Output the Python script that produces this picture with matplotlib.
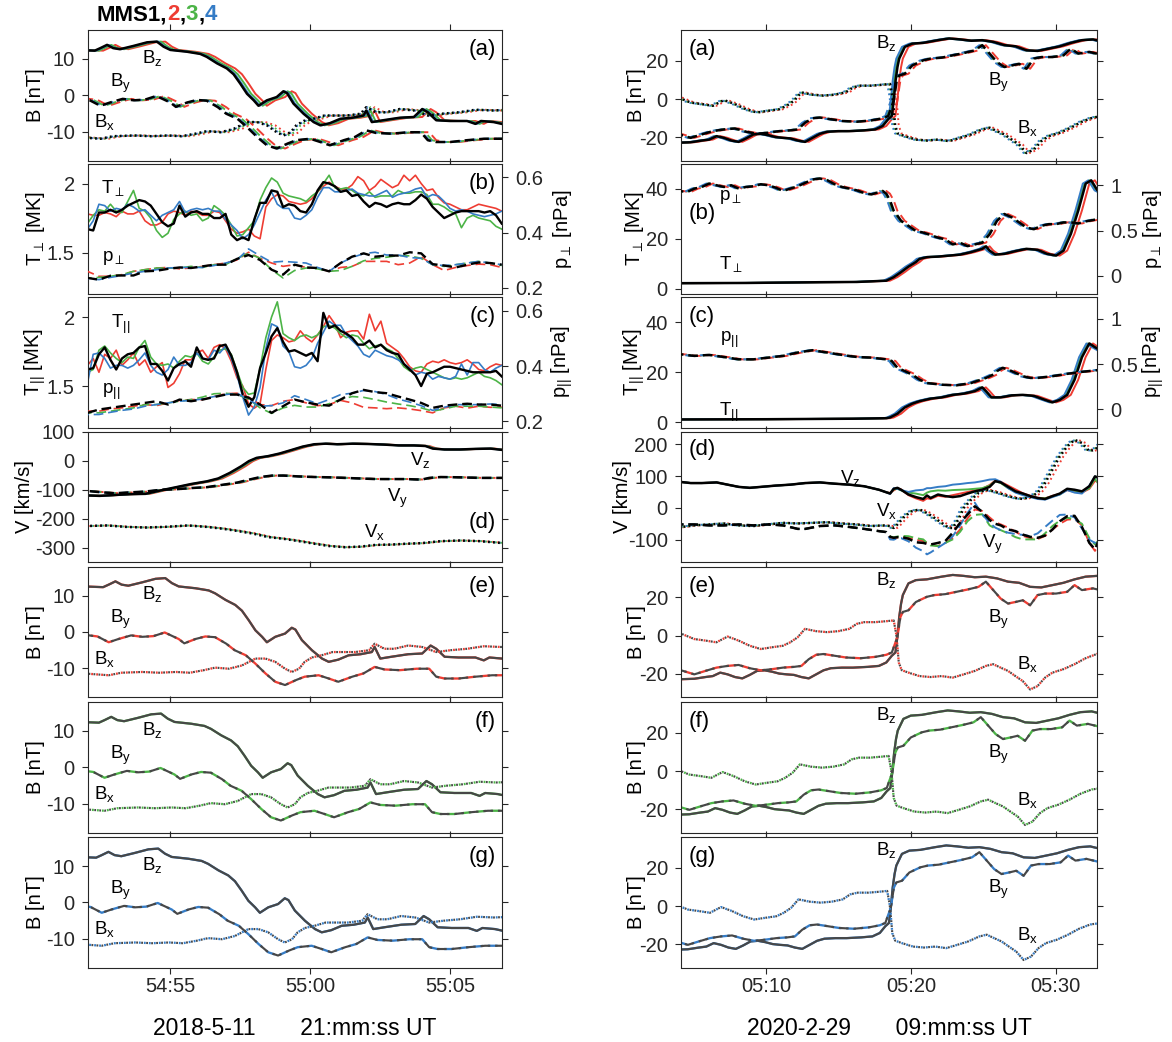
import numpy as np
import matplotlib
matplotlib.use('Agg')
import matplotlib.pyplot as plt

plt.rcParams['font.family'] = ['Liberation Sans', 'DejaVu Sans']
plt.rcParams['mathtext.fontset'] = 'custom'
plt.rcParams['mathtext.rm'] = 'Liberation Sans'
plt.rcParams['mathtext.it'] = 'Liberation Sans'
plt.rcParams['mathtext.default'] = 'regular'
plt.rcParams['lines.scale_dashes'] = False

RED = '#ee3d33'
GREEN = '#4cb447'
BLUE = '#357cc6'
GRAY = '#474747'
TICK_COLOR = '#262626'
SC_COLORS = ['k', RED, GREEN, BLUE]

# ---------------- 2018-05-11 event (seconds after 21:54:00) ----------------
# time lag of MMS1..4 relative to MMS1
lag_left = [0.0, 0.3, 0.15, 0.05]

l_bz_t = [51.6, 52.3, 52.5, 52.74, 52.96, 53.2, 53.68, 54.17, 54.52, 54.76, 55.0, 55.6, 56.07, 56.3,
          56.67, 57.02, 57.26, 57.5, 57.74, 57.98, 58.15, 58.45, 58.8, 59.04, 59.17, 59.4, 59.76, 60.12,
          60.36, 60.7, 61.07, 61.5, 61.9, 62.0, 62.2, 62.6, 63.2, 63.7, 64.0, 64.2, 64.5, 65.0, 65.6,
          65.9, 66.1, 66.55, 66.9]
l_bz = [12.5, 12.3, 13.0, 13.9, 13.0, 12.7, 13.6, 14.6, 14.8, 13.4, 12.5, 12.0, 11.4, 10.6, 8.8, 7.4,
        5.8, 3.2, 0.4, -1.4, -2.9, -1.4, -0.5, 1.1, 0.6, -2.3, -5.1, -7.4, -8.3, -7.7, -6.5, -6.2, -5.6,
        -4.2, -7.4, -6.9, -6.2, -6.0, -3.8, -4.7, -6.9, -7.1, -7.1, -7.9, -7.1, -7.4, -8.0]
l_by_t = [51.6, 52.1, 52.5, 52.85, 53.3, 53.7, 54.1, 54.5, 55.0, 55.2, 55.6, 55.95, 56.3, 56.7, 57.0,
          57.4, 57.74, 58.1, 58.45, 58.8, 59.2, 59.5, 60.0, 60.36, 60.7, 61.2, 61.6, 62.0, 62.35, 62.9,
          63.5, 63.95, 64.2, 64.5, 65.0, 65.6, 66.2, 66.9]
l_by = [-0.8, -1.3, -2.9, -2.0, -1.0, -1.4, -1.2, -0.2, -2.0, -3.2, -2.0, -1.3, -1.5, -3.3, -5.1, -6.5,
        -8.8, -11.5, -13.8, -14.7, -13.3, -12.4, -12.0, -12.9, -13.8, -12.4, -11.5, -9.7, -10.4, -10.6,
        -10.2, -10.2, -12.4, -12.9, -12.9, -12.4, -12.0, -12.0]
l_bx_t = [51.6, 52.5, 52.96, 53.7, 54.3, 54.9, 55.4, 55.9, 56.3, 56.8, 57.26, 57.74, 58.1, 58.45, 58.8,
          59.04, 59.3, 59.5, 59.76, 60.1, 60.5, 60.8, 61.3, 61.8, 62.0, 62.35, 62.7, 63.2, 63.7, 64.2,
          64.7, 65.3, 65.9, 66.5, 67.2]
l_bx = [-11.5, -12.0, -11.3, -11.1, -11.3, -11.1, -11.3, -10.6, -9.9, -10.2, -9.3, -7.4, -7.4, -8.3,
        -10.2, -11.1, -10.2, -8.3, -7.1, -6.5, -5.6, -5.6, -5.6, -5.1, -3.3, -4.7, -4.7, -3.8, -4.2,
        -5.6, -5.1, -4.7, -4.0, -4.2, -4.0]

# plasma moments: temperatures every ~0.2 s, pressures every ~0.4 s
l_t_fine = np.linspace(52.04, 66.84, 73)
l_t_coarse = np.linspace(52.04, 66.84, 37)

l_tperp_mms1 = [1.67, 1.66, 1.79, 1.79, 1.81, 1.79, 1.81, 1.84, 1.86, 1.88,
                1.87, 1.84, 1.78, 1.72, 1.69, 1.71, 1.84, 1.76, 1.79, 1.80,
                1.78, 1.78, 1.75, 1.75, 1.78, 1.63, 1.59, 1.61, 1.59, 1.74,
                1.86, 1.86, 1.95, 1.94, 1.83, 1.85, 1.84, 1.80, 1.79, 1.85,
                1.95, 2.01, 2.00, 1.98, 1.94, 1.95, 1.91, 1.92, 1.87, 1.83,
                1.86, 1.85, 1.83, 1.85, 1.86, 1.85, 1.85, 1.88, 1.92, 1.89,
                1.83, 1.79, 1.75, 1.77, 1.79, 1.80, 1.80, 1.80, 1.80, 1.79,
                1.80, 1.77, 1.71]
l_tperp_mms2 = [1.78, 1.77, 1.77, 1.79, 1.78, 1.76, 1.80, 1.78, 1.78, 1.80,
                1.73, 1.70, 1.70, 1.72, 1.78, 1.80, 1.79, 1.77, 1.80, 1.79,
                1.77, 1.77, 1.80, 1.79, 1.73, 1.67, 1.64, 1.65, 1.67, 1.62,
                1.60, 1.83, 1.89, 1.92, 1.91, 1.87, 1.86, 1.85, 1.86, 1.89,
                1.94, 1.98, 2.01, 1.98, 1.96, 1.96, 1.99, 2.05, 2.02, 1.95,
                1.98, 2.03, 2.00, 1.97, 1.99, 2.06, 2.02, 2.06, 2.00, 1.95,
                1.96, 1.90, 1.86, 1.85, 1.83, 1.81, 1.81, 1.83, 1.85, 1.84,
                1.83, 1.82, 1.80]
l_tperp_mms3 = [1.71, 1.77, 1.81, 1.80, 1.85, 1.80, 1.79, 1.87, 1.95, 1.82,
                1.80, 1.75, 1.66, 1.61, 1.64, 1.74, 1.78, 1.80, 1.77, 1.78,
                1.73, 1.75, 1.84, 1.81, 1.77, 1.70, 1.62, 1.63, 1.68, 1.73,
                1.88, 1.97, 2.04, 2.01, 1.93, 1.91, 1.90, 1.89, 1.87, 1.91,
                1.94, 2.00, 2.06, 1.97, 1.96, 1.97, 1.95, 1.92, 1.91, 1.94,
                1.90, 1.91, 1.91, 1.91, 1.95, 1.93, 1.93, 1.94, 1.94, 1.92,
                1.85, 1.85, 1.83, 1.80, 1.78, 1.68, 1.75, 1.77, 1.75, 1.74,
                1.73, 1.69, 1.67]
l_tperp_mms4 = [1.67, 1.73, 1.85, 1.84, 1.80, 1.82, 1.81, 1.85, 1.83, 1.80,
                1.81, 1.77, 1.73, 1.77, 1.79, 1.81, 1.87, 1.79, 1.81, 1.82,
                1.81, 1.82, 1.80, 1.80, 1.74, 1.70, 1.66, 1.60, 1.63, 1.70,
                1.79, 1.88, 1.94, 1.85, 1.82, 1.82, 1.75, 1.74, 1.77, 1.81,
                1.90, 1.97, 1.97, 1.94, 1.94, 1.95, 1.96, 1.93, 1.92, 1.91,
                1.91, 1.93, 1.95, 1.90, 1.92, 1.93, 1.94, 1.96, 1.97, 1.90,
                1.92, 1.91, 1.87, 1.82, 1.80, 1.81, 1.80, 1.78, 1.77, 1.76,
                1.77, 1.78, 1.80]

l_tpar_mms1 = [1.62, 1.63, 1.73, 1.78, 1.69, 1.62, 1.70, 1.73, 1.74, 1.78,
               1.79, 1.66, 1.66, 1.61, 1.54, 1.63, 1.66, 1.68, 1.64, 1.78,
               1.70, 1.69, 1.70, 1.79, 1.80, 1.72, 1.60, 1.44, 1.35, 1.42,
               1.63, 1.74, 1.86, 1.92, 1.82, 1.75, 1.76, 1.74, 1.72, 1.74,
               1.68, 2.03, 1.92, 1.94, 1.90, 1.88, 1.85, 1.80, 1.80, 1.83,
               1.78, 1.80, 1.76, 1.74, 1.73, 1.66, 1.62, 1.58, 1.50, 1.59,
               1.60, 1.62, 1.64, 1.64, 1.63, 1.62, 1.61, 1.60, 1.60, 1.60,
               1.60, 1.61, 1.57]
l_tpar_mms2 = [1.65, 1.70, 1.60, 1.73, 1.70, 1.76, 1.65, 1.69, 1.74, 1.65,
               1.69, 1.60, 1.64, 1.67, 1.49, 1.52, 1.59, 1.69, 1.69, 1.74,
               1.76, 1.70, 1.78, 1.80, 1.77, 1.68, 1.56, 1.50, 1.37, 1.34,
               1.37, 1.62, 1.83, 1.87, 1.85, 1.82, 1.83, 1.90, 1.85, 1.82,
               1.87, 1.93, 2.01, 1.95, 1.85, 1.89, 1.90, 1.90, 1.84, 2.02,
               1.90, 1.97, 1.81, 1.78, 1.75, 1.70, 1.64, 1.61, 1.60, 1.66,
               1.68, 1.67, 1.69, 1.67, 1.66, 1.67, 1.69, 1.66, 1.62, 1.61,
               1.64, 1.66, 1.65]
l_tpar_mms3 = [1.60, 1.62, 1.76, 1.79, 1.74, 1.70, 1.67, 1.71, 1.70, 1.78,
               1.83, 1.71, 1.66, 1.65, 1.66, 1.63, 1.68, 1.72, 1.71, 1.74,
               1.68, 1.66, 1.71, 1.76, 1.77, 1.73, 1.61, 1.49, 1.44, 1.45,
               1.63, 1.85, 2.00, 2.11, 1.88, 1.85, 1.83, 1.86, 1.87, 1.85,
               1.87, 1.93, 1.94, 1.92, 1.88, 1.85, 1.87, 1.86, 1.81, 1.77,
               1.79, 1.80, 1.77, 1.75, 1.70, 1.64, 1.61, 1.63, 1.64, 1.62,
               1.60, 1.58, 1.56, 1.55, 1.56, 1.55, 1.56, 1.58, 1.60, 1.57,
               1.56, 1.54, 1.51]
l_tpar_mms4 = [1.52, 1.73, 1.74, 1.70, 1.63, 1.65, 1.65, 1.63, 1.65, 1.69,
               1.74, 1.65, 1.60, 1.58, 1.62, 1.71, 1.65, 1.65, 1.67, 1.74,
               1.70, 1.69, 1.76, 1.74, 1.79, 1.70, 1.58, 1.42, 1.29, 1.35,
               1.49, 1.77, 1.95, 1.93, 1.79, 1.75, 1.64, 1.63, 1.65, 1.70,
               1.81, 1.89, 1.97, 1.94, 1.94, 1.87, 1.83, 1.79, 1.73, 1.71,
               1.76, 1.74, 1.72, 1.71, 1.69, 1.66, 1.63, 1.58, 1.60, 1.59,
               1.55, 1.57, 1.56, 1.55, 1.57, 1.66, 1.58, 1.67, 1.67, 1.62,
               1.60, 1.63, 1.65]

l_pperp_mms1 = [0.236, 0.230, 0.244, 0.245, 0.245, 0.260, 0.262, 0.269, 0.274, 0.272,
                0.278, 0.284, 0.284, 0.305, 0.319, 0.301, 0.266, 0.248, 0.284, 0.274,
                0.272, 0.260, 0.290, 0.313, 0.325, 0.313, 0.317, 0.317, 0.329, 0.325,
                0.286, 0.281, 0.274, 0.284, 0.292, 0.290, 0.284]
l_pperp_mms2 = [0.260, 0.242, 0.242, 0.248, 0.260, 0.266, 0.272, 0.274, 0.269, 0.272,
                0.278, 0.284, 0.290, 0.301, 0.329, 0.307, 0.290, 0.278, 0.284, 0.274,
                0.272, 0.260, 0.274, 0.278, 0.296, 0.296, 0.296, 0.284, 0.290, 0.313,
                0.284, 0.263, 0.274, 0.281, 0.286, 0.284, 0.274]
l_pperp_mms3 = [0.236, 0.238, 0.242, 0.248, 0.260, 0.266, 0.272, 0.272, 0.272, 0.278,
                0.274, 0.284, 0.284, 0.307, 0.325, 0.307, 0.266, 0.236, 0.263, 0.272,
                0.269, 0.260, 0.263, 0.278, 0.298, 0.307, 0.311, 0.317, 0.316, 0.307,
                0.284, 0.278, 0.284, 0.290, 0.296, 0.290, 0.281]
l_pperp_mms4 = [0.233, 0.230, 0.238, 0.245, 0.254, 0.260, 0.266, 0.272, 0.274, 0.274,
                0.274, 0.281, 0.290, 0.301, 0.341, 0.316, 0.293, 0.296, 0.293, 0.290,
                0.274, 0.260, 0.290, 0.310, 0.324, 0.329, 0.319, 0.319, 0.310, 0.307,
                0.284, 0.281, 0.284, 0.290, 0.296, 0.290, 0.284]

l_ppar_mms1 = [0.231, 0.243, 0.249, 0.255, 0.261, 0.267, 0.273, 0.261, 0.279, 0.273,
               0.279, 0.288, 0.297, 0.297, 0.286, 0.261, 0.231, 0.255, 0.279, 0.269,
               0.261, 0.257, 0.279, 0.302, 0.314, 0.306, 0.302, 0.290, 0.279, 0.267,
               0.249, 0.257, 0.261, 0.264, 0.261, 0.261, 0.257]
l_ppar_mms2 = [0.237, 0.237, 0.245, 0.249, 0.255, 0.261, 0.257, 0.267, 0.276, 0.279,
               0.279, 0.290, 0.300, 0.302, 0.288, 0.261, 0.257, 0.273, 0.279, 0.267,
               0.257, 0.261, 0.276, 0.267, 0.251, 0.249, 0.246, 0.249, 0.245, 0.239,
               0.231, 0.249, 0.255, 0.248, 0.255, 0.251, 0.252]
l_ppar_mms3 = [0.231, 0.231, 0.237, 0.243, 0.249, 0.261, 0.261, 0.267, 0.273, 0.279,
               0.288, 0.300, 0.302, 0.297, 0.281, 0.249, 0.229, 0.249, 0.258, 0.252,
               0.252, 0.264, 0.279, 0.290, 0.287, 0.279, 0.270, 0.263, 0.257, 0.249,
               0.237, 0.245, 0.255, 0.255, 0.255, 0.252, 0.249]
l_ppar_mms4 = [0.225, 0.225, 0.233, 0.240, 0.245, 0.255, 0.261, 0.267, 0.273, 0.276,
               0.281, 0.290, 0.297, 0.302, 0.279, 0.255, 0.257, 0.267, 0.293, 0.279,
               0.264, 0.279, 0.297, 0.302, 0.312, 0.308, 0.297, 0.281, 0.270, 0.257,
               0.240, 0.251, 0.261, 0.260, 0.261, 0.263, 0.261]

l_vz_t = [51.6, 52.47, 53.01, 53.56, 54.11, 54.66, 55.21, 55.75, 56.30, 56.71, 57.12, 57.53, 57.81,
          58.08, 58.49, 58.90, 59.32, 59.73, 60.14, 60.55, 60.96, 61.51, 62.05, 62.60, 63.15, 63.70,
          64.11, 64.38, 64.79, 65.34, 65.89, 66.44, 66.9]
l_vz = [-119, -122, -119, -116, -115, -103, -92, -81, -72, -62, -43, -20, -2, 9, 15, 24, 36, 48, 56,
        58, 56, 58, 57, 55, 52, 52, 50, 41, 38, 38, 40, 41, 36]
l_vy_t = [51.6, 52.47, 53.01, 53.56, 54.11, 54.66, 55.21, 55.75, 56.30, 56.85, 57.40, 57.81, 58.22,
          58.63, 59.04, 59.59, 60.14, 60.68, 61.23, 61.78, 62.33, 62.88, 63.42, 63.97, 64.25, 64.66,
          65.34, 66.03, 66.9]
l_vy = [-101, -109, -113, -110, -107, -101, -99, -95, -92, -84, -76, -66, -57, -52, -52, -55, -57,
        -58, -60, -62, -64, -64, -64, -66, -60, -57, -58, -60, -60]
l_vx_t = [51.6, 52.74, 53.42, 54.11, 54.79, 55.62, 56.30, 56.85, 57.40, 57.95, 58.49, 59.04, 59.59,
          60.14, 60.68, 61.23, 61.78, 62.33, 62.88, 63.42, 63.97, 64.66, 65.34, 66.03, 66.9]
l_vx = [-227, -224, -229, -231, -229, -224, -229, -235, -243, -252, -264, -270, -278, -287, -295,
        -299, -297, -291, -290, -287, -285, -278, -276, -278, -285]

# ---------------- 2020-02-29 event (seconds after 09:00:00) ----------------
lag_right = [0.0, 0.25, -0.1, -0.2]

r_bz_t = [303.6, 304.77, 305.54, 306.05, 306.56, 307.07, 307.58, 308.09, 308.60, 309.11, 309.62,
          310.13, 310.64, 311.15, 311.66, 312.17, 312.68, 313.19, 313.70, 314.21, 314.97, 315.74,
          316.76, 317.53, 318.04, 318.42, 318.67, 318.80, 318.93, 319.06, 319.18, 319.57, 320.08,
          320.84, 321.86, 322.63, 323.39, 324.16, 324.92, 325.69, 326.45, 327.22, 327.98, 328.75,
          329.52, 330.28, 331.05, 331.81, 332.58, 333.3]
r_bz = [-22.8, -22.5, -21.6, -21.1, -19.3, -20.2, -21.6, -22.3, -20.5, -18.4, -18.1, -18.8, -19.8,
        -20.2, -20.5, -21.6, -22.3, -20.2, -18.1, -17.0, -16.7, -16.7, -16.3, -15.8, -14.0, -10.5,
        -8.8, -0.9, 9.6, 16.7, 21.1, 27.2, 28.9, 29.3, 30.7, 31.6, 31.1, 30.4, 30.7, 29.8, 28.1,
        27.5, 25.4, 25.1, 26.3, 27.5, 29.3, 30.7, 31.1, 29.8]
r_by_t = [303.6, 304.77, 305.54, 306.30, 307.07, 307.83, 308.60, 309.36, 310.13, 310.89, 311.66,
          312.17, 312.68, 313.19, 313.70, 314.46, 315.23, 316.25, 317.27, 318.04, 318.42, 318.80,
          319.01, 319.18, 319.57, 320.08, 320.84, 321.35, 322.12, 322.88, 323.65, 324.41, 324.92,
          325.43, 325.94, 326.45, 326.96, 327.47, 327.98, 328.49, 329.01, 329.77, 330.54, 331.05,
          331.56, 332.32, 333.3]
r_by = [-17.5, -20.2, -18.4, -16.7, -15.8, -15.3, -17.0, -18.1, -17.5, -16.7, -16.3, -15.8, -12.3,
        -10.0, -9.6, -10.5, -11.4, -11.8, -11.1, -10.0, -8.8, -0.9, 9.6, 12.3, 13.2, 17.5, 20.2,
        21.1, 21.6, 22.8, 24.0, 25.4, 28.1, 23.7, 19.3, 16.7, 17.5, 18.4, 15.8, 21.1, 21.9, 21.9,
        22.8, 26.3, 23.7, 24.6, 22.8]
r_bx_t = [303.6, 304.77, 305.54, 306.30, 307.07, 307.83, 308.60, 309.36, 310.13, 310.89, 311.40,
          311.91, 312.42, 313.19, 313.95, 314.72, 315.48, 315.99, 316.51, 317.27, 318.04, 318.55,
          318.72, 318.80, 318.90, 319.10, 319.57, 320.33, 321.10, 321.86, 322.63, 323.39, 324.16,
          324.92, 325.43, 325.94, 326.45, 326.96, 327.47, 327.98, 328.49, 329.01, 329.52, 330.28,
          331.05, 331.81, 332.58, 333.3]
r_bx = [1.8, -1.8, -2.6, -3.5, -0.5, -2.6, -5.3, -7.0, -6.1, -5.3, -3.5, -0.9, 3.5, 2.3, 1.8, 2.3,
        3.5, 6.1, 7.0, 7.0, 7.5, 7.9, 0.9, -5.0, -14.0, -18.0, -19.3, -21.1, -21.6, -21.1, -21.9,
        -20.2, -18.4, -15.8, -14.9, -16.7, -18.4, -21.1, -23.7, -28.1, -26.3, -21.9, -19.3, -17.5,
        -14.9, -11.8, -9.6, -8.8]

r_tperp_t = [303.6, 308.60, 313.70, 316.25, 318.29, 318.80, 319.31, 319.82, 320.33, 320.59, 321.10,
             321.86, 322.63, 323.39, 324.16, 324.92, 325.18, 325.43, 325.82, 326.45, 327.22, 327.98,
             328.75, 329.39, 330.03, 330.54, 331.05, 331.56, 332.07, 332.45, 332.88, 333.3]
r_tperp = [2.3, 2.4, 2.7, 2.8, 3.3, 4.7, 6.7, 8.9, 10.7, 12.0, 12.7, 12.9, 13.3, 13.7, 14.7, 16.0,
           17.0, 15.3, 13.7, 14.0, 15.1, 16.0, 15.6, 14.0, 13.3, 15.3, 22.0, 31.3, 42.0, 43.3, 39.3,
           38.0]
r_pperp_t = [303.6, 304.52, 305.03, 305.54, 306.05, 306.56, 307.07, 307.58, 308.09, 308.60, 309.11,
             309.62, 310.13, 310.64, 311.15, 311.66, 312.17, 312.68, 313.19, 313.70, 314.21, 314.72,
             315.23, 315.74, 316.25, 316.76, 317.27, 317.78, 318.04, 318.29, 318.55, 318.80, 319.06,
             319.31, 319.82, 320.33, 320.84, 321.35, 321.86, 322.37, 322.88, 323.39, 323.90, 324.41,
             324.92, 325.43, 325.94, 326.45, 326.96, 327.47, 327.98, 328.49, 329.01, 329.52, 330.03,
             330.54, 331.05, 331.56, 332.07, 332.58, 333.3]
r_pperp = [0.944, 0.925, 0.963, 0.981, 1.019, 1.000, 0.981, 1.000, 0.963, 0.981, 0.989, 1.011,
           1.000, 0.974, 0.937, 0.963, 0.989, 1.026, 1.063, 1.075, 1.056, 1.011, 0.981, 0.963,
           0.944, 0.914, 0.899, 0.925, 0.937, 0.907, 0.832, 0.720, 0.664, 0.608, 0.552, 0.496,
           0.478, 0.451, 0.422, 0.403, 0.347, 0.366, 0.328, 0.347, 0.366, 0.459, 0.608, 0.683,
           0.646, 0.590, 0.534, 0.515, 0.552, 0.571, 0.571, 0.590, 0.590, 0.578, 0.601, 0.616,
           0.640]
r_tpar_t = [303.6, 310.0, 316.0, 318.3, 318.55, 319.06, 319.57, 320.08, 320.59, 321.35, 322.12,
            322.88, 323.65, 324.41, 324.92, 325.18, 325.56, 326.20, 326.96, 327.73, 328.49, 329.26,
            329.77, 330.28, 330.79, 331.30, 331.81, 332.32, 332.71, 333.3]
r_tpar = [1.2, 1.3, 1.5, 1.7, 2.0, 3.5, 6.0, 7.5, 8.5, 9.5, 10.0, 11.0, 11.5, 12.5, 14.0, 12.5, 10.0,
          10.0, 10.8, 11.0, 10.6, 9.0, 8.0, 9.0, 11.0, 17.0, 26.0, 31.5, 30.0, 28.0]
r_ppar_t = [303.6, 305.03, 306.05, 307.07, 308.09, 309.11, 310.13, 311.15, 312.17, 313.19, 314.21,
            315.23, 316.25, 317.27, 318.29, 318.67, 319.06, 319.57, 320.08, 320.59, 321.10, 322.12,
            323.14, 324.16, 325.18, 325.69, 325.94, 326.33, 326.71, 327.22, 327.73, 328.24, 328.75,
            329.77, 330.79, 331.81, 333.3]
r_ppar = [0.616, 0.590, 0.601, 0.578, 0.552, 0.552, 0.571, 0.590, 0.627, 0.653, 0.627, 0.601,
          0.578, 0.571, 0.552, 0.534, 0.459, 0.422, 0.384, 0.328, 0.291, 0.272, 0.265, 0.291,
          0.347, 0.384, 0.422, 0.459, 0.440, 0.403, 0.366, 0.347, 0.347, 0.366, 0.392, 0.414,
          0.440]

# velocity: common part before the front, then one branch per spacecraft
r_vz_pre_t = [303.6, 304.77, 305.54, 306.56, 307.32, 308.09, 308.85, 309.62, 310.64, 311.66, 312.68,
              313.70, 314.72, 315.74, 316.76, 317.78, 318.29]
r_vz_pre = [84, 78, 78, 80, 73, 66, 63, 66, 70, 73, 78, 80, 76, 73, 68, 57, 49]
r_vy_pre_t = [303.6, 305.03, 306.05, 307.07, 308.09, 309.11, 310.13, 311.15, 312.17, 312.68, 313.70,
              314.72, 315.74, 316.76, 317.78, 318.29]
r_vy_pre = [-52, -52, -55, -55, -52, -55, -52, -55, -66, -66, -57, -55, -60, -66, -73, -76]
r_vpost_t = [318.55, 318.8, 319.06, 319.31, 319.82, 320.33, 320.84, 321.1, 321.35, 321.86, 322.37,
             322.88, 323.39, 323.9, 324.41, 324.92, 325.43, 325.82, 326.2, 326.71, 327.22, 327.73,
             328.24, 328.75, 329.26, 329.77, 330.28, 330.79, 331.3, 331.81, 332.32, 332.71, 333.0]
r_vz_mms1 = [45, 60, 63, 57, 42, 34, 28, 39, 31, 42, 37, 34, 37, 45, 52, 57, 66, 84, 80, 66, 52, 45,
             37, 31, 28, 37, 45, 60, 57, 52, 68, 99, 94]
r_vz_mms2 = [47, 55, 62, 58, 40, 30, 22, 30, 28, 38, 35, 40, 45, 50, 55, 60, 72, 86, 82, 70, 58, 46,
             38, 32, 30, 38, 44, 56, 50, 48, 60, 85, 80]
r_vz_mms3 = [46, 58, 60, 55, 48, 45, 40, 48, 52, 55, 54, 56, 57, 58, 60, 62, 70, 84, 78, 62, 50, 42,
             35, 30, 30, 36, 42, 58, 54, 50, 62, 92, 72]
r_vz_mms4 = [44, 62, 60, 56, 50, 55, 57, 62, 62, 66, 68, 73, 75, 78, 80, 84, 89, 90, 82, 62, 48, 40,
             34, 28, 26, 34, 42, 56, 48, 45, 70, 99, 90]
r_vy_mms1 = [-91, -94, -92, -91, -97, -108, -110, -113, -115, -110, -104, -78, -47, -21, 5, -12, -38,
             -50, -55, -68, -73, -84, -91, -94, -87, -68, -42, -26, -25, -60, -110, -130, -99]
r_vy_mms2 = [-92, -95, -93, -93, -94, -100, -104, -110, -115, -120, -110, -94, -68, -33, -5, -10,
             -30, -45, -52, -62, -75, -88, -95, -98, -88, -68, -50, -37, -35, -55, -110, -135, -110]
r_vy_mms3 = [-90, -92, -90, -88, -89, -95, -99, -110, -118, -120, -110, -99, -75, -42, -22, -20, -55,
             -65, -70, -80, -92, -99, -99, -99, -80, -57, -40, -31, -35, -50, -95, -115, -100]
r_vy_mms4 = [-99, -100, -95, -95, -105, -125, -136, -146, -140, -125, -110, -89, -55, -16, 16, -20,
             -47, -62, -70, -78, -82, -85, -89, -80, -60, -40, -22, -21, -30, -65, -100, -110, -95]
r_vx_t = [303.6, 305.03, 306.05, 307.07, 308.09, 309.11, 310.13, 311.15, 312.17, 313.19, 314.21,
          315.23, 316.25, 317.27, 318.04, 318.55, 318.80, 319.06, 319.57, 320.08, 320.59, 321.10,
          321.61, 322.12, 322.63, 322.88, 323.27, 323.65, 324.16, 324.67, 325.18, 325.69, 326.20,
          326.71, 327.22, 327.73, 328.24, 328.75, 329.26, 329.77, 330.28, 330.79, 331.30, 331.81,
          332.32, 332.71, 333.2]
r_vx = [-63, -55, -52, -49, -55, -57, -52, -47, -49, -47, -45, -49, -52, -57, -55, -57, -63, -52,
        -26, -10, -5, -16, -31, -47, -63, -63, -37, 0, 26, 47, 57, 52, 45, 37, 31, 28, 34, 47, 78,
        120, 162, 193, 214, 204, 178, 183, 204]

# ---------------- figure ----------------
W, H = 1172.0, 1042.0
fig = plt.figure(figsize=(W / 100, H / 100), dpi=100)
TOPS = [30, 163.5, 297, 431.5, 566.5, 702, 837]
PH = 130.5
LEFT_X = (88, 502)
RIGHT_X = (681, 1097)
XLIM_L = (52.06, 66.85)
XLIM_R = (304.1, 332.85)
DASH = (7.0, 3.5)
DOT = (1.3, 2.3)


def make_ax(cols, top):
    x0, x1 = cols
    return fig.add_axes([x0 / W, 1 - (top + PH) / H, (x1 - x0) / W, PH / H])


def frame(ax, xlim, xticks, xlabels, bottom, right=True):
    ax.set_xlim(*xlim)
    ax.set_xticks(xticks)
    ax.set_xticklabels(xlabels)
    ax.tick_params(direction='out', length=4.5, width=0.8, colors=TICK_COLOR, labelsize=14.5,
                   top=True, right=right, labelbottom=bottom)
    ax.tick_params(axis='x', pad=2.5)
    ax.tick_params(axis='y', pad=5)
    for sp in ax.spines.values():
        sp.set_linewidth(0.8)
        sp.set_color(TICK_COLOR)


def yaxis(ax, ylim, ticks, labels, label, xpix, col):
    ax.set_ylim(*ylim)
    ax.set_yticks(ticks)
    ax.set_yticklabels(labels)
    ax.set_ylabel(label, fontsize=14.5, va='center')
    ax.yaxis.set_label_coords((xpix - col[0]) / (col[1] - col[0]), 0.5)


def twin(ax, ylim, ticks, labels, label, xpix, col):
    ax2 = ax.twinx()
    ax2.set_ylim(*ylim)
    ax2.set_yticks(ticks)
    ax2.set_yticklabels(labels)
    ax2.tick_params(axis='y', direction='out', length=4.5, width=0.8, colors=TICK_COLOR,
                    labelsize=14.5, pad=5)
    ax2.tick_params(axis='x', top=False, bottom=False, labelbottom=False)
    ax2.set_ylabel(label, fontsize=14.5, rotation=90, va='center')
    ax2.yaxis.set_label_coords((xpix - col[0]) / (col[1] - col[0]), 0.5)
    for sp in ax2.spines.values():
        sp.set_visible(False)
    return ax2


def line(ax, t, y, color, kind, lw, shift=0.0, phase=0.0):
    t = np.asarray(t, float) + shift
    if kind == '-':
        ls = '-'
    elif kind == '--':
        ls = (phase, DASH)
    else:
        ls = (phase, DOT)
    ax.plot(t, y, color=color, lw=lw, ls=ls, dash_capstyle='butt', solid_joinstyle='round')


def tag(ax, s, x, y, ha):
    ax.text(x, y, s, transform=ax.transAxes, fontsize=16, ha=ha, va='center')


def note(ax, x, y, s):
    ax.text(x, y, s, fontsize=13.5, ha='left', va='baseline')


axL = [make_ax(LEFT_X, t) for t in TOPS]
axR = [make_ax(RIGHT_X, t) for t in TOPS]

xt_l, xl_l = [55, 60, 65], ['54:55', '55:00', '55:05']
xt_r, xl_r = [310, 320, 330], ['05:10', '05:20', '05:30']

# ---- left column ----
b_sets_l = [(l_bz_t, l_bz, '-'), (l_by_t, l_by, '--'), (l_bx_t, l_bx, ':')]
ax = axL[0]
for k in [1, 2, 3, 0]:
    for t, y, kind in b_sets_l:
        line(ax, t, y, SC_COLORS[k], kind, 1.8 if k == 0 else 1.4, lag_left[k])

for ax, k in zip(axL[4:], [1, 2, 3]):
    for t, y, kind in b_sets_l:
        line(ax, t, y, SC_COLORS[k], kind, 1.65, lag_left[k], phase=DASH[0] * 0.75)
        line(ax, t, y, GRAY, kind, 1.55, lag_left[k])

for ax in [axL[0]] + axL[4:]:
    yaxis(ax, (-18, 18), [-10, 0, 10], ['-10', '0', '10'], 'B [nT]', 35, LEFT_X)
    note(ax, 54.0, 8.9, 'B$_z$')
    note(ax, 52.86, 2.3, 'B$_y$')
    note(ax, 52.29, -8.8, 'B$_x$')

tperp_l = [l_tperp_mms1, l_tperp_mms2, l_tperp_mms3, l_tperp_mms4]
pperp_l = [l_pperp_mms1, l_pperp_mms2, l_pperp_mms3, l_pperp_mms4]
tpar_l = [l_tpar_mms1, l_tpar_mms2, l_tpar_mms3, l_tpar_mms4]
ppar_l = [l_ppar_mms1, l_ppar_mms2, l_ppar_mms3, l_ppar_mms4]
for ax, temps, press, tl, pl in [(axL[1], tperp_l, pperp_l, 'T$_\\perp$ [MK]', 'p$_\\perp$ [nPa]'),
                                 (axL[2], tpar_l, ppar_l, 'T$_{||}$ [MK]', 'p$_{||}$ [nPa]')]:
    yaxis(ax, (1.2, 2.145), [1.5, 2], ['1.5', '2'], tl, 35, LEFT_X)
    ax2 = twin(ax, (0.178, 0.65), [0.2, 0.4, 0.6], ['0.2', '0.4', '0.6'], pl, 562, LEFT_X)
    for k in [1, 2, 3, 0]:
        line(ax, l_t_fine, temps[k], SC_COLORS[k], '-', 1.7 if k == 0 else 1.2)
        line(ax2, l_t_coarse, press[k], SC_COLORS[k], '--', 1.7 if k == 0 else 1.2,
             phase=k * 2.0)
    ax.set_xlim(*XLIM_L)
note(axL[1], 52.53, 1.935, 'T$_\\perp$')
note(axL[1], 52.57, 1.44, 'p$_\\perp$')
note(axL[2], 52.88, 1.92, 'T$_{||}$')
note(axL[2], 52.57, 1.44, 'p$_{||}$')

ax = axL[3]
for k in [1, 2, 3, 0]:
    for t, y, kind in [(l_vz_t, l_vz, '-'), (l_vy_t, l_vy, '--'), (l_vx_t, l_vx, ':')]:
        line(ax, t, y, SC_COLORS[k], kind, 1.8 if k == 0 else 1.4, lag_left[k] * 0.5)
yaxis(ax, (-350, 100), [-300, -200, -100, 0, 100], ['-300', '-200', '-100', '0', '100'],
      'V [km/s]', 24, LEFT_X)
note(ax, 63.56, -14, 'V$_z$')
note(ax, 62.74, -142, 'V$_y$')
note(ax, 61.92, -264, 'V$_x$')

for i, ax in enumerate(axL):
    frame(ax, XLIM_L, xt_l, xl_l, i == 6, right=(i not in (1, 2)))
for ax, s in zip(axL, 'abcdefg'):
    if s == 'd':
        tag(ax, '(d)', 0.985, 0.30, 'right')
    else:
        tag(ax, '(%s)' % s, 0.985, 0.85, 'right')
axL[6].set_xlabel('2018-5-11       21:mm:ss UT', fontsize=16.5, labelpad=15)

# ---- right column ----
b_sets_r = [(r_bz_t, r_bz, '-'), (r_by_t, r_by, '--'), (r_bx_t, r_bx, ':')]
ax = axR[0]
for k in [1, 2, 3, 0]:
    for t, y, kind in b_sets_r:
        line(ax, t, y, SC_COLORS[k], kind, 1.8 if k == 0 else 1.4, lag_right[k])

for ax, k in zip(axR[4:], [1, 2, 3]):
    for t, y, kind in b_sets_r:
        line(ax, t, y, SC_COLORS[k], kind, 1.65, lag_right[k], phase=DASH[0] * 0.75)
        line(ax, t, y, GRAY, kind, 1.55, lag_right[k])

for ax in [axR[0]] + axR[4:]:
    yaxis(ax, (-32, 36), [-20, 0, 20], ['-20', '0', '20'], 'B [nT]', 637, RIGHT_X)
    note(ax, 317.6, 26.5, 'B$_z$')
    note(ax, 325.35, 6.7, 'B$_y$')
    note(ax, 327.35, -17.5, 'B$_x$')

for ax, (tt, tv), (pt, pv), tl, pl in [
        (axR[1], (r_tperp_t, r_tperp), (r_pperp_t, r_pperp), 'T$_\\perp$ [MK]', 'p$_\\perp$ [nPa]'),
        (axR[2], (r_tpar_t, r_tpar), (r_ppar_t, r_ppar), 'T$_{||}$ [MK]', 'p$_{||}$ [nPa]')]:
    yaxis(ax, (-2, 50), [0, 20, 40], ['0', '20', '40'], tl, 634, RIGHT_X)
    ax2 = twin(ax, (-0.2, 1.24), [0, 0.5, 1], ['0', '0.5', '1'], pl, 1153, RIGHT_X)
    for k in [1, 2, 3, 0]:
        line(ax, tt, tv, SC_COLORS[k], '-', 1.8 if k == 0 else 1.4, lag_right[k])
        line(ax2, pt, pv, SC_COLORS[k], '--', 1.8 if k == 0 else 1.4, lag_right[k])
    ax.set_xlim(*XLIM_R)
note(axR[1], 306.7, 35.3, 'p$_\\perp$')
note(axR[1], 306.7, 8.0, 'T$_\\perp$')
note(axR[2], 306.8, 32.0, 'p$_{||}$')
note(axR[2], 306.7, 2.7, 'T$_{||}$')

ax = axR[3]
vz_post = [r_vz_mms1, r_vz_mms2, r_vz_mms3, r_vz_mms4]
vy_post = [r_vy_mms1, r_vy_mms2, r_vy_mms3, r_vy_mms4]
for k in [1, 2, 3, 0]:
    lw = 1.8 if k == 0 else 1.4
    line(ax, r_vz_pre_t + r_vpost_t, r_vz_pre + vz_post[k], SC_COLORS[k], '-', lw)
    line(ax, r_vy_pre_t + r_vpost_t, r_vy_pre + vy_post[k], SC_COLORS[k], '--', lw)
    line(ax, r_vx_t, r_vx, SC_COLORS[k], ':', lw, lag_right[k])
yaxis(ax, (-170, 240), [-100, 0, 100, 200], ['-100', '0', '100', '200'], 'V [km/s]', 622, RIGHT_X)
note(ax, 315.1, 78, 'V$_z$')
note(ax, 317.6, -26, 'V$_x$')
note(ax, 324.9, -125, 'V$_y$')

for i, ax in enumerate(axR):
    frame(ax, XLIM_R, xt_r, xl_r, i == 6, right=(i not in (1, 2)))
tag_y_r = [0.85, 0.62, 0.85, 0.86, 0.85, 0.85, 0.85]
for ax, s, ty in zip(axR, 'abcdefg', tag_y_r):
    tag(ax, '(%s)' % s, 0.018, ty, 'left')
axR[6].set_xlabel('2020-2-29       09:mm:ss UT', fontsize=16.5, labelpad=15)

# ---- coloured spacecraft title ----
renderer = fig.canvas.get_renderer()
x = 97.0
for s, c in [('MMS1,', 'k'), ('2', RED), (',', 'k'), ('3', GREEN), (',', 'k'), ('4', BLUE)]:
    txt = fig.text(x / W, 1 - 15 / H, s, color=c, fontsize=16, fontweight='bold',
                   ha='left', va='center')
    x += txt.get_window_extent(renderer=renderer).width

fig.savefig('out.png', dpi=100)
